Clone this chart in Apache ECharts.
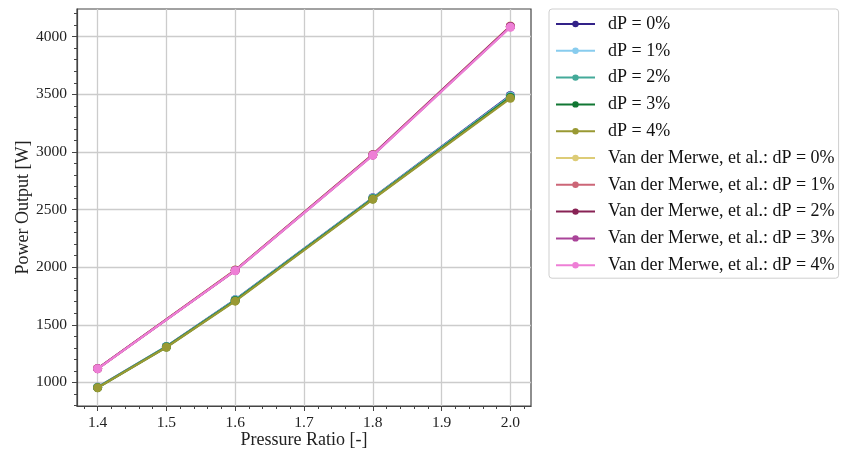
<!DOCTYPE html>
<html>
<head>
<meta charset="utf-8">
<script src="https://cdn.jsdelivr.net/npm/echarts@6/dist/echarts.min.js"></script>
<style>
  html, body { margin: 0; padding: 0; background: #fff; }
  #chart { width: 842px; height: 454px; }
</style>
</head>
<body>
<div id="chart"></div>
<script>
// Pressure ratios at which each data set was evaluated
const modelRatios = [1.4, 1.5, 1.6, 1.8, 2.0];
const refRatios = [1.4, 1.6, 1.8, 2.0];

// Power output [W], present model, pressure drop dP = 0..4 %
const model_dP0 = [958, 1312, 1718, 2602, 3490];
const model_dP1 = [957, 1311, 1716, 2599, 3484];
const model_dP2 = [956, 1309, 1713, 2596, 3479];
const model_dP3 = [954, 1307, 1709, 2592, 3472];
const model_dP4 = [953, 1305, 1705, 2589, 3465];

// Power output [W], Van der Merwe et al., dP = 0..4 %
const vdm_dP0 = [1120, 1975, 2978, 4092];
const vdm_dP1 = [1120, 1973, 2976, 4090];
const vdm_dP2 = [1119, 1972, 2974, 4088];
const vdm_dP3 = [1119, 1970, 2972, 4085];
const vdm_dP4 = [1118, 1969, 2970, 4082];

// Series names and colours
const seriesNames = [
  'dP = 0%', 'dP = 1%', 'dP = 2%', 'dP = 3%', 'dP = 4%',
  'Van der Merwe, et al.: dP = 0%', 'Van der Merwe, et al.: dP = 1%',
  'Van der Merwe, et al.: dP = 2%', 'Van der Merwe, et al.: dP = 3%',
  'Van der Merwe, et al.: dP = 4%'
];
const seriesColors = [
  '#332288', '#88CCEE', '#44AA99', '#117733', '#999933',
  '#DDCC77', '#CC6677', '#882255', '#AA4499', '#EE7FD6'
];

// Axis ticks
const xMajorTicks = [1.4, 1.5, 1.6, 1.7, 1.8, 1.9, 2.0];
const yMajorTicks = [1000, 1500, 2000, 2500, 3000, 3500, 4000];
const xRange = [1.37, 2.03];
const yRange = [795, 4240];

function minorTicks(lo, hi, step, majors) {
  const out = [];
  const n = Math.round((hi - lo) / step);
  for (let i = 0; i <= n; i++) {
    const v = +(lo + i * step).toFixed(6);
    if (!majors.some(m => Math.abs(m - v) < step / 10)) out.push(v);
  }
  return out;
}
const xMinorTicks = minorTicks(1.38, 2.02, 0.02, xMajorTicks);
const yMinorTicks = minorTicks(800, 4200, 100, yMajorTicks);

const FONT = '"Liberation Serif", "Times New Roman", serif';
const INK = '#222';

const dataSets = [
  [modelRatios, model_dP0], [modelRatios, model_dP1], [modelRatios, model_dP2],
  [modelRatios, model_dP3], [modelRatios, model_dP4],
  [refRatios, vdm_dP0], [refRatios, vdm_dP1], [refRatios, vdm_dP2],
  [refRatios, vdm_dP3], [refRatios, vdm_dP4]
];

const series = dataSets.map(([xs, ys], i) => ({
  name: seriesNames[i],
  type: 'line',
  xAxisIndex: 0,
  yAxisIndex: 0,
  data: xs.map((x, k) => [x, ys[k]]),
  color: seriesColors[i],
  symbol: 'circle',
  symbolSize: 9,
  lineStyle: { width: 2.2, color: seriesColors[i] },
  itemStyle: { color: seriesColors[i] },
  z: 2 + i,
  animation: false
}));

const chart = echarts.init(document.getElementById('chart'), null, { renderer: 'canvas' });
chart.setOption({
  backgroundColor: '#fff',
  animation: false,
  grid: {
    left: 77, top: 9, width: 454, height: 397,
    outerBoundsMode: 'none',
    containLabel: false,
    show: true, borderColor: '#444', borderWidth: 1.2, backgroundColor: 'transparent'
  },
  legend: {
    left: 549, top: 9,
    orient: 'vertical',
    padding: [6, 4, 4, 6],
    itemWidth: 39, itemHeight: 8,
    itemGap: 8.8,
    borderColor: '#cfcfcf', borderWidth: 1, borderRadius: 3,
    backgroundColor: '#fff',
    textStyle: { fontFamily: FONT, fontSize: 18, color: '#111', padding: [0, 0, 0, 8] },
    data: seriesNames
  },
  xAxis: [
    {
      type: 'value', position: 'bottom', min: xRange[0], max: xRange[1],
      name: 'Pressure Ratio [-]', nameLocation: 'middle', nameGap: 25, nameMoveOverlap: false,
      nameTextStyle: { fontFamily: FONT, fontSize: 18, color: INK },
      axisLine: { show: true, lineStyle: { color: '#444', width: 1.2 } },
      axisTick: { show: true, length: 5, customValues: xMajorTicks, lineStyle: { color: '#444', width: 1 } },
      axisLabel: { customValues: xMajorTicks, fontFamily: FONT, fontSize: 15.5, color: INK, margin: 9,
        formatter: v => v.toFixed(1) },
      splitLine: { show: true, lineStyle: { color: '#cccccc', width: 1.3 } }
    },
    {
      type: 'value', position: 'bottom', min: xRange[0], max: xRange[1],
      axisLine: { show: false },
      axisTick: { show: true, length: 3, customValues: xMinorTicks, lineStyle: { color: '#444', width: 1 } },
      axisLabel: { show: false },
      splitLine: { show: false }
    }
  ],
  yAxis: [
    {
      type: 'value', position: 'left', min: yRange[0], max: yRange[1],
      name: 'Power Output [W]', nameLocation: 'middle', nameGap: 45, nameRotate: 90, nameMoveOverlap: false,
      nameTextStyle: { fontFamily: FONT, fontSize: 18, color: INK },
      axisLine: { show: true, lineStyle: { color: '#444', width: 1.2 } },
      axisTick: { show: true, length: 5, customValues: yMajorTicks, lineStyle: { color: '#444', width: 1 } },
      axisLabel: { customValues: yMajorTicks, fontFamily: FONT, fontSize: 15.5, color: INK, margin: 10,
        formatter: v => String(v) },
      splitLine: { show: true, lineStyle: { color: '#cccccc', width: 1.3 } }
    },
    {
      type: 'value', position: 'left', min: yRange[0], max: yRange[1],
      axisLine: { show: false },
      axisTick: { show: true, length: 3, customValues: yMinorTicks, lineStyle: { color: '#444', width: 1 } },
      axisLabel: { show: false },
      splitLine: { show: false }
    }
  ],
  series: series
});
</script>
</body>
</html>
